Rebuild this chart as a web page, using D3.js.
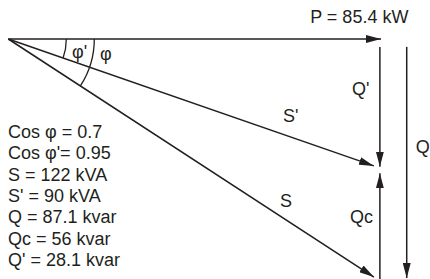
<!DOCTYPE html>
<html>
<head>
<meta charset="utf-8">
<script src="https://cdn.jsdelivr.net/npm/d3@7"></script>
<style>
  html, body { margin: 0; padding: 0; background: #fff; }
  svg text { font-family: "Liberation Sans", Arial, Helvetica, sans-serif; fill: #231f20; }
  .vec { stroke: #231f20; stroke-width: 1.5; fill: none; }
  .arc { stroke: #231f20; stroke-width: 1.3; fill: none; }
</style>
</head>
<body>
<svg></svg>
<script>
/* values printed on the left */
const paramNames = ['Cos φ = ', "Cos φ'= ", 'S = ', "S' = ", 'Q = ', 'Qc = ', "Q' = "];
const paramValues = ['0.7', '0.95', '122', '90', '87.1', '56', '28.1'];
const paramUnits = ['', '', ' kVA', ' kVA', ' kvar', ' kvar', ' kvar'];
const activePower = '85.4';

/* schematic vectors, in diagram units (P = 1 along x) */
const vecNames = ['P', "S'", 'S', "Q'", 'Qc', 'Q'];
const vecX0 = [0, 0, 0, 0.997, 0.997, 1.069];
const vecY0 = [0, 0, 0, 0.033, 1.004, 0.033];
const vecX1 = [1, 0.981, 0.981, 0.997, 0.997, 1.069];
const vecY1 = [0, 0.531, 0.996, 0.534, 0.562, 1.0];

/* vector labels */
const labelText = ['P = ' + activePower + ' kW', "Q'", 'Q', 'Qc', "S'", 'S', "φ'", 'φ'];
const labelX = [0.81, 0.922, 1.093, 0.917, 0.737, 0.729, 0.171, 0.246];
const labelY = [-0.067, 0.234, 0.477, 0.77, 0.347, 0.703, 0.08, 0.088];

const width = 430, height = 279;
const svg = d3.select('svg').attr('width', width).attr('height', height);

const x = d3.scaleLinear().domain([0, 1]).range([8.3, 381]);
const y = d3.scaleLinear().domain([0, 1]).range([39, 278]);

svg.append('defs').append('marker')
	.attr('id', 'arrow')
	.attr('viewBox', '0 -4 15 8')
	.attr('refX', 15)
	.attr('refY', 0)
	.attr('markerWidth', 15)
	.attr('markerHeight', 8)
	.attr('markerUnits', 'userSpaceOnUse')
	.attr('orient', 'auto')
	.append('path')
	.attr('d', 'M0,-4L15,0L0,4Z')
	.attr('fill', '#231f20');

/* vectors */
const vecs = vecNames.map((n, i) => ({name: n, x0: vecX0[i], y0: vecY0[i], x1: vecX1[i], y1: vecY1[i]}));
svg.append('g').selectAll('line')
	.data(vecs)
	.join('line')
	.attr('class', 'vec')
	.attr('x1', d => x(d.x0))
	.attr('y1', d => y(d.y0))
	.attr('x2', d => x(d.x1))
	.attr('y2', d => y(d.y1))
	.attr('marker-end', 'url(#arrow)');

/* angle arcs φ' and φ */
function angleOf(i) {
	return Math.atan2(y(vecY1[i]) - y(0), x(vecX1[i]) - x(0));
}
const arcs = [{r: 58, a: angleOf(1)}, {r: 86, a: angleOf(2)}];
svg.append('g').selectAll('path')
	.data(arcs)
	.join('path')
	.attr('class', 'arc')
	.attr('d', d => {
		const p = d3.path();
		p.arc(x(0), y(0), d.r, 0, d.a);
		return p.toString();
	});

/* labels on the diagram */
svg.append('g').selectAll('text')
	.data(labelText)
	.join('text')
	.attr('x', (d, i) => x(labelX[i]))
	.attr('y', (d, i) => y(labelY[i]))
	.attr('font-size', 18)
	.text(d => d);

/* parameter list */
const rowY = d3.scalePoint().domain(d3.range(paramNames.length)).range([138, 266]);
svg.append('g').selectAll('text')
	.data(paramNames)
	.join('text')
	.attr('x', 8)
	.attr('y', (d, i) => rowY(i))
	.attr('font-size', 18)
	.text((d, i) => d + paramValues[i] + paramUnits[i]);
</script>
</body>
</html>
